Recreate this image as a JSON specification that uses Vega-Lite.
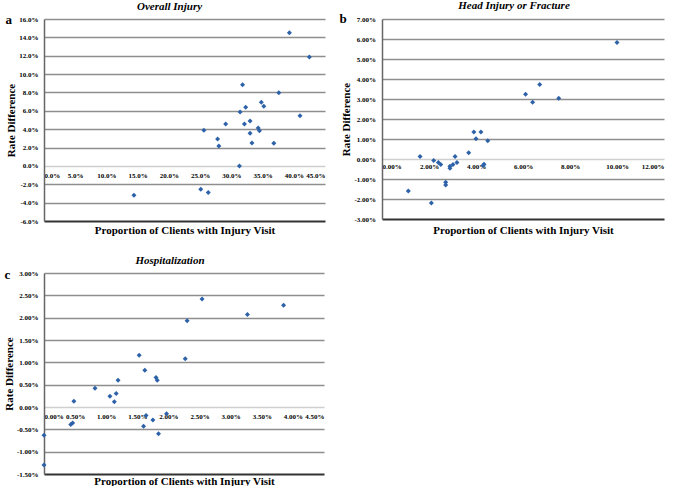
{
  "$schema": "https://vega.github.io/schema/vega-lite/v6.json",
  "background": "white",
  "padding": {"left": 3, "top": 0, "right": 5, "bottom": 0},
  "datasets": {
    "a": [
      {"x": 0.393, "y": 0.145}, {"x": 0.425, "y": 0.1185}, {"x": 0.318, "y": 0.0884}, {"x": 0.376, "y": 0.0797},
      {"x": 0.348, "y": 0.0692}, {"x": 0.352, "y": 0.0649}, {"x": 0.323, "y": 0.0638}, {"x": 0.314, "y": 0.0587},
      {"x": 0.410, "y": 0.0547}, {"x": 0.330, "y": 0.0489}, {"x": 0.291, "y": 0.0457}, {"x": 0.321, "y": 0.0457},
      {"x": 0.343, "y": 0.0413}, {"x": 0.345, "y": 0.0384}, {"x": 0.256, "y": 0.0388}, {"x": 0.330, "y": 0.0355},
      {"x": 0.278, "y": 0.0293}, {"x": 0.280, "y": 0.0217}, {"x": 0.333, "y": 0.0250}, {"x": 0.368, "y": 0.0246},
      {"x": 0.313, "y": 0.0}, {"x": 0.251, "y": -0.0254}, {"x": 0.263, "y": -0.029}, {"x": 0.144, "y": -0.0319}
    ],
    "b": [
      {"x": 0.100, "y": 0.0583}, {"x": 0.0671, "y": 0.0372}, {"x": 0.0611, "y": 0.0324}, {"x": 0.0641, "y": 0.0284},
      {"x": 0.0752, "y": 0.0304}, {"x": 0.0391, "y": 0.0135}, {"x": 0.0421, "y": 0.0135}, {"x": 0.0400, "y": 0.0101},
      {"x": 0.0450, "y": 0.0091}, {"x": 0.0369, "y": 0.0031}, {"x": 0.0162, "y": 0.0013}, {"x": 0.0311, "y": 0.0013},
      {"x": 0.0220, "y": -0.0007}, {"x": 0.0240, "y": -0.0017}, {"x": 0.0250, "y": -0.0027}, {"x": 0.0319, "y": -0.0017},
      {"x": 0.0302, "y": -0.0027}, {"x": 0.0289, "y": -0.0036}, {"x": 0.0289, "y": -0.0046}, {"x": 0.0434, "y": -0.0026},
      {"x": 0.0430, "y": -0.0032}, {"x": 0.0271, "y": -0.0116}, {"x": 0.0271, "y": -0.0130}, {"x": 0.0112, "y": -0.0160},
      {"x": 0.0210, "y": -0.0220}
    ],
    "c": [
      {"x": 0.0254, "y": 0.0242}, {"x": 0.0385, "y": 0.0228}, {"x": 0.0327, "y": 0.0207}, {"x": 0.0230, "y": 0.0193},
      {"x": 0.0153, "y": 0.0116}, {"x": 0.0227, "y": 0.0108}, {"x": 0.0162, "y": 0.0082}, {"x": 0.0180, "y": 0.0066},
      {"x": 0.0182, "y": 0.0060}, {"x": 0.0119, "y": 0.0060}, {"x": 0.0082, "y": 0.0042}, {"x": 0.0116, "y": 0.0030},
      {"x": 0.0106, "y": 0.0024}, {"x": 0.0113, "y": 0.0012}, {"x": 0.0048, "y": 0.0013}, {"x": 0.0197, "y": -0.0015},
      {"x": 0.0164, "y": -0.0019}, {"x": 0.0175, "y": -0.0029}, {"x": 0.0160, "y": -0.0043}, {"x": 0.0184, "y": -0.0060},
      {"x": 0.0046, "y": -0.0036}, {"x": 0.0043, "y": -0.0039}, {"x": 0.0000, "y": -0.0063}, {"x": 0.0000, "y": -0.0130}
    ]
  },
  "vconcat": [
    {
      "hconcat": [
        {
          "width": 281, "height": 202,
          "title": {"text": "Overall Injury", "dx": -15, "offset": -1, "dy": -2},
          "layer": [
            {
              "data": {"name": "a"},
              "mark": {"type": "point", "shape": "diamond", "filled": true, "size": 25, "color": "#2e62a8", "opacity": 1},
              "encoding": {
                "x": {"field": "x", "type": "quantitative", "scale": {"domain": [0, 0.45], "nice": false, "zero": false},
                  "axis": {"orient": "bottom", "offset": -55.1, "values": [0, 0.05, 0.1, 0.15, 0.2, 0.25, 0.3, 0.35, 0.4, 0.45],
                    "labelExpr": "replace(format(datum.value, '.1%'), '\u2212', '-')", "grid": false, "domain": false, "labelPadding": 5.5,
                    "title": "Proportion of Clients with Injury Visit", "titleY": 65, "titleBaseline": "middle"}},
                "y": {"field": "y", "type": "quantitative", "scale": {"domain": [-0.06, 0.16], "nice": false},
                  "axis": {"values": [-0.06, -0.04, -0.02, 0, 0.02, 0.04, 0.06, 0.08, 0.1, 0.12, 0.14, 0.16],
                    "labelExpr": "replace(format(datum.value, '.1%'), '\u2212', '-')", "grid": true, "labelPadding": 6,
                    "gridColor": {"condition": [{"test": "abs(datum.value) < 1e-9", "value": "#cfcfcf"}, {"test": "datum.value < -0.0599", "value": "#333333"}], "value": "#8e8e8e"},
                    "gridWidth": {"condition": {"test": "datum.value < -0.0599", "value": 2}, "value": 1.3},
                    "title": "Rate Difference", "titlePadding": 2}}
              }
            },
            {
              "data": {"name": "a"},
              "mark": {"type": "point", "opacity": 0},
              "encoding": {
                "x": {"field": "x", "type": "quantitative",
                  "axis": {"orient": "top", "labels": false, "domain": false, "grid": false, "title": "a",
                    "titleX": -39, "titleY": 0, "titleAlign": "left", "titleBaseline": "middle", "titleFontSize": 13}}
              }
            }
          ],
          "resolve": {"axis": {"x": "independent"}}
        },
        {
          "width": 282, "height": 200,
          "title": {"text": "Head Injury or Fracture", "dx": -9, "offset": -1, "dy": -2},
          "layer": [
            {
              "data": {"name": "b"},
              "mark": {"type": "point", "shape": "diamond", "filled": true, "size": 25, "color": "#2e62a8", "opacity": 1},
              "encoding": {
                "x": {"field": "x", "type": "quantitative", "scale": {"domain": [0, 0.12], "nice": false, "zero": false},
                  "axis": {"orient": "bottom", "offset": -60, "values": [0, 0.02, 0.04, 0.06, 0.08, 0.1, 0.12],
                    "labelExpr": "replace(format(datum.value, '.2%'), '\u2212', '-')", "grid": false, "domain": false, "labelPadding": 3,
                    "title": "Proportion of Clients with Injury Visit", "titleY": 71, "titleBaseline": "middle"}},
                "y": {"field": "y", "type": "quantitative", "scale": {"domain": [-0.03, 0.07], "nice": false},
                  "axis": {"values": [-0.03, -0.02, -0.01, 0, 0.01, 0.02, 0.03, 0.04, 0.05, 0.06, 0.07],
                    "labelExpr": "replace(format(datum.value, '.2%'), '\u2212', '-')", "grid": true, "labelPadding": 6.5,
                    "gridColor": {"condition": [{"test": "abs(datum.value) < 1e-9", "value": "#cfcfcf"}, {"test": "datum.value < -0.0299", "value": "#333333"}], "value": "#8e8e8e"},
                    "gridWidth": {"condition": {"test": "datum.value < -0.0299", "value": 2}, "value": 1.3},
                    "title": "Rate Difference", "titlePadding": 2}}
              }
            },
            {
              "data": {"name": "b"},
              "mark": {"type": "point", "opacity": 0},
              "encoding": {
                "x": {"field": "x", "type": "quantitative",
                  "axis": {"orient": "top", "labels": false, "domain": false, "grid": false, "title": "b",
                    "titleX": -43, "titleY": -1, "titleAlign": "left", "titleBaseline": "middle", "titleFontSize": 13}}
              }
            }
          ],
          "resolve": {"axis": {"x": "independent"}}
        }
      ],
      "spacing": 14
    },
    {
      "width": 280, "height": 201,
      "title": {"text": "Hospitalization", "dx": -14},
      "layer": [
        {
          "data": {"name": "c"},
          "mark": {"type": "point", "shape": "diamond", "filled": true, "size": 25, "color": "#2e62a8", "opacity": 1},
          "encoding": {
            "x": {"field": "x", "type": "quantitative", "scale": {"domain": [0, 0.045], "nice": false, "zero": false},
              "axis": {"orient": "bottom", "offset": -67, "values": [0, 0.005, 0.01, 0.015, 0.02, 0.025, 0.03, 0.035, 0.04, 0.045],
                "labelExpr": "replace(format(datum.value, '.2%'), '\u2212', '-')", "grid": false, "domain": false, "labelPadding": 5,
                "title": "Proportion of Clients with Injury Visit", "titleY": 74, "titleBaseline": "middle"}},
            "y": {"field": "y", "type": "quantitative", "scale": {"domain": [-0.015, 0.03], "nice": false},
              "axis": {"values": [-0.015, -0.01, -0.005, 0, 0.005, 0.01, 0.015, 0.02, 0.025, 0.03],
                "labelExpr": "replace(format(datum.value, '.2%'), '\u2212', '-')", "grid": true, "labelPadding": 6,
                "gridColor": {"condition": [{"test": "abs(datum.value) < 1e-9", "value": "#cfcfcf"}, {"test": "datum.value < -0.0149", "value": "#333333"}], "value": "#8e8e8e"},
                "gridWidth": {"condition": {"test": "datum.value < -0.0149", "value": 2}, "value": 1.3},
                "title": "Rate Difference", "titlePadding": 2}}
          }
        },
        {
          "data": {"name": "c"},
          "mark": {"type": "point", "opacity": 0},
          "encoding": {
            "x": {"field": "x", "type": "quantitative",
              "axis": {"orient": "top", "labels": false, "domain": false, "grid": false, "title": "c",
                "titleX": -40, "titleY": 1, "titleAlign": "left", "titleBaseline": "middle", "titleFontSize": 13}}
          }
        }
      ],
      "resolve": {"axis": {"x": "independent"}}
    }
  ],
  "spacing": 19,
  "config": {
    "font": "Liberation Serif",
    "view": {"stroke": null},
    "title": {"font": "Liberation Serif", "fontSize": 11, "fontWeight": "bold", "fontStyle": "italic", "color": "#000", "offset": 2},
    "axis": {
      "labelFont": "Liberation Serif", "labelFontWeight": "bold", "labelFontSize": 7, "labelColor": "#000", "labelOverlap": false,
      "titleFont": "Liberation Serif", "titleFontWeight": "bold", "titleFontSize": 11, "titleColor": "#000",
      "domainColor": "#666666", "domainWidth": 1.5, "ticks": false
    }
  }
}
